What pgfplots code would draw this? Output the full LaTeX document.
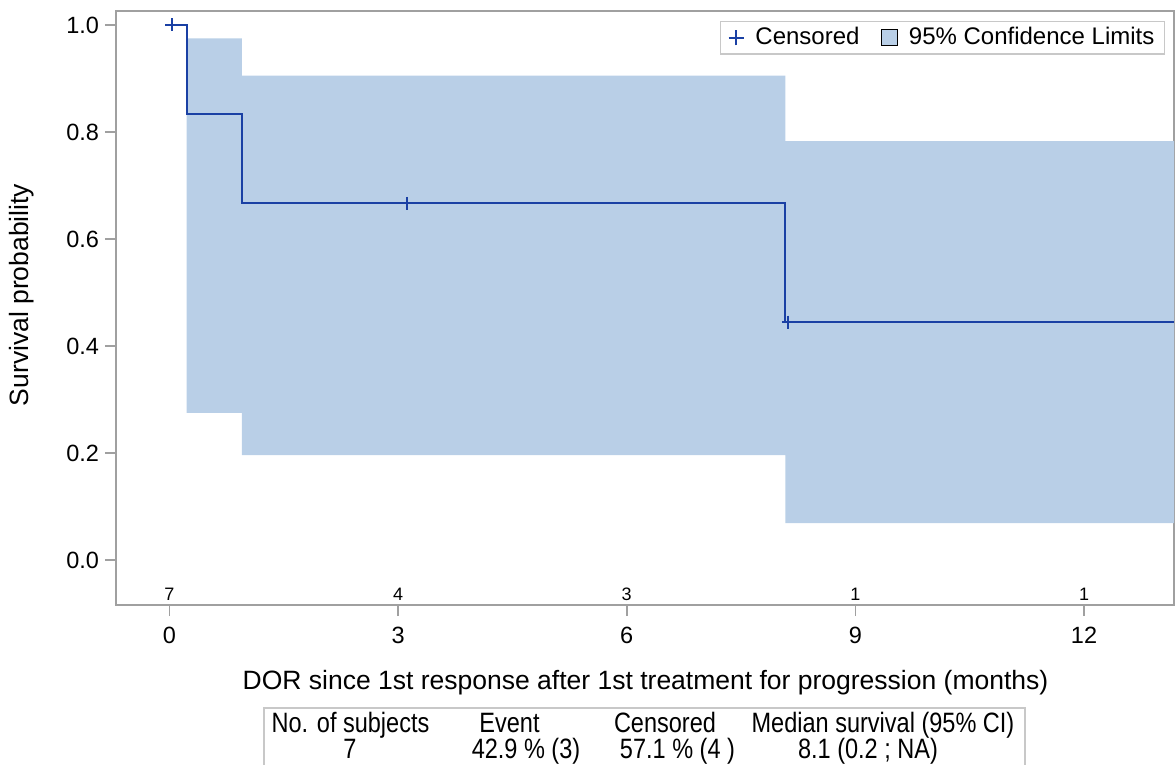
\documentclass[border=0pt]{standalone}
\usepackage{fontspec}
\setmainfont{Liberation Sans}
\newfontfamily\narrowfont[FakeStretch=0.84]{Liberation Sans}
\usepackage{pgfplots}
\pgfplotsset{compat=1.18}
\definecolor{cifill}{RGB}{185,207,231}
\definecolor{kmline}{RGB}{26,64,164}
\definecolor{axgray}{RGB}{160,160,160}
\definecolor{leggray}{RGB}{200,200,200}
\begin{document}
\begin{tikzpicture}
\useasboundingbox (-58bp,-80bp) rectangle (530bp,302.5bp);
\begin{axis}[
  at={(0,0)}, anchor=south west,
  scale only axis, width=529bp, height=297bp,
  xmin=-0.70, xmax=13.18, ymin=-0.0841, ymax=1.026,
  xtick={0,3,6,9,12}, ytick={0,0.2,0.4,0.6,0.8,1.0},
  yticklabel style={xshift=0.5bp, /pgf/number format/.cd, fixed, fixed zerofill, precision=1},
  /pgf/number format/assume math mode=true,
  tick align=outside, major tick length=5.5bp,
  tick style={axgray, line width=0.8bp},
  axis line style={axgray, line width=0.8bp},
  xtick pos=bottom, ytick pos=left,
  ticklabel style={font=\fontsize{11.75bp}{14bp}\selectfont},
  xticklabel style={yshift=-2bp},
  legend columns=2,
  legend style={draw=leggray, line width=0.6bp, font=\fontsize{12bp}{14bp}\selectfont,
    at={(rel axis cs:1,1)}, anchor=north east, xshift=-4.5bp, yshift=-5bp,
    inner xsep=3.5bp, inner ysep=1.5bp, nodes={inner sep=1.5bp},
    /tikz/every odd column/.append style={column sep=4bp},
    /tikz/every even column/.append style={column sep=9bp}},
  legend cell align=left,
]
\addlegendimage{legend image code/.code={\draw[kmline, line width=0.9bp] (0bp,0bp)--(7.5bp,0bp) (3.75bp,-3.75bp)--(3.75bp,3.75bp);}}
\addlegendentry{Censored}
\addlegendimage{legend image code/.code={\draw[fill=cifill, draw=black, line width=0.7bp] (0bp,-4bp) rectangle (8bp,4bp);}}
\addlegendentry{95\% Confidence Limits}
% confidence band
\addplot[fill=cifill, draw=none, forget plot] coordinates {
  (0.228,0.975)(0.95,0.975)(0.95,0.905)(8.08,0.905)(8.08,0.783)(13.18,0.783)
  (13.18,0.069)(8.08,0.069)(8.08,0.196)(0.95,0.196)(0.95,0.275)(0.228,0.275)} -- cycle;
% KM curve
\addplot[const plot, kmline, line width=1bp, forget plot] coordinates {
  (0,1)(0.228,0.8333)(0.955,0.6667)(8.08,0.4444)(13.18,0.4444)};
% censored
\addplot[only marks, mark=+, mark size=3.25bp, kmline, line width=1bp, forget plot] coordinates {
  (0.03,1)(3.12,0.6667)(8.12,0.4444)};
% at risk
\node[font=\fontsize{9bp}{10bp}\selectfont] at (axis cs:0,-0.065) {7};
\node[font=\fontsize{9bp}{10bp}\selectfont] at (axis cs:3,-0.065) {4};
\node[font=\fontsize{9bp}{10bp}\selectfont] at (axis cs:6,-0.065) {3};
\node[font=\fontsize{9bp}{10bp}\selectfont] at (axis cs:9,-0.065) {1};
\node[font=\fontsize{9bp}{10bp}\selectfont] at (axis cs:12,-0.065) {1};
\end{axis}
% axis labels
\node[font=\fontsize{13.25bp}{16bp}\selectfont] at (264.75bp,-39bp) {DOR since 1st response after 1st treatment for progression (months)};
\node[font=\fontsize{13.25bp}{16bp}\selectfont, rotate=90] at (-47bp,155bp) {Survival probability};
% summary table
\draw[leggray, line width=0.6bp] (74bp,-81bp) -- (74bp,-51.5bp) -- (454.5bp,-51.5bp) -- (454.5bp,-81bp);
\begin{scope}[every node/.style={font=\narrowfont\fontsize{14bp}{16bp}\selectfont, anchor=base, inner sep=0pt}]
\node at (117.25bp,-63.5bp) {No. of subjects};
\node at (196.75bp,-63.5bp) {Event};
\node at (274.5bp,-63.5bp) {Censored};
\node at (383.5bp,-63.5bp) {Median survival (95\% CI)};
\node at (117bp,-76.5bp) {7};
\node at (205bp,-76.5bp) {42.9 \% (3)};
\node at (280.75bp,-76.5bp) {57.1 \% (4 )};
\node at (376bp,-76.5bp) {8.1 (0.2 ; NA)};
\end{scope}
\end{tikzpicture}
\end{document}
